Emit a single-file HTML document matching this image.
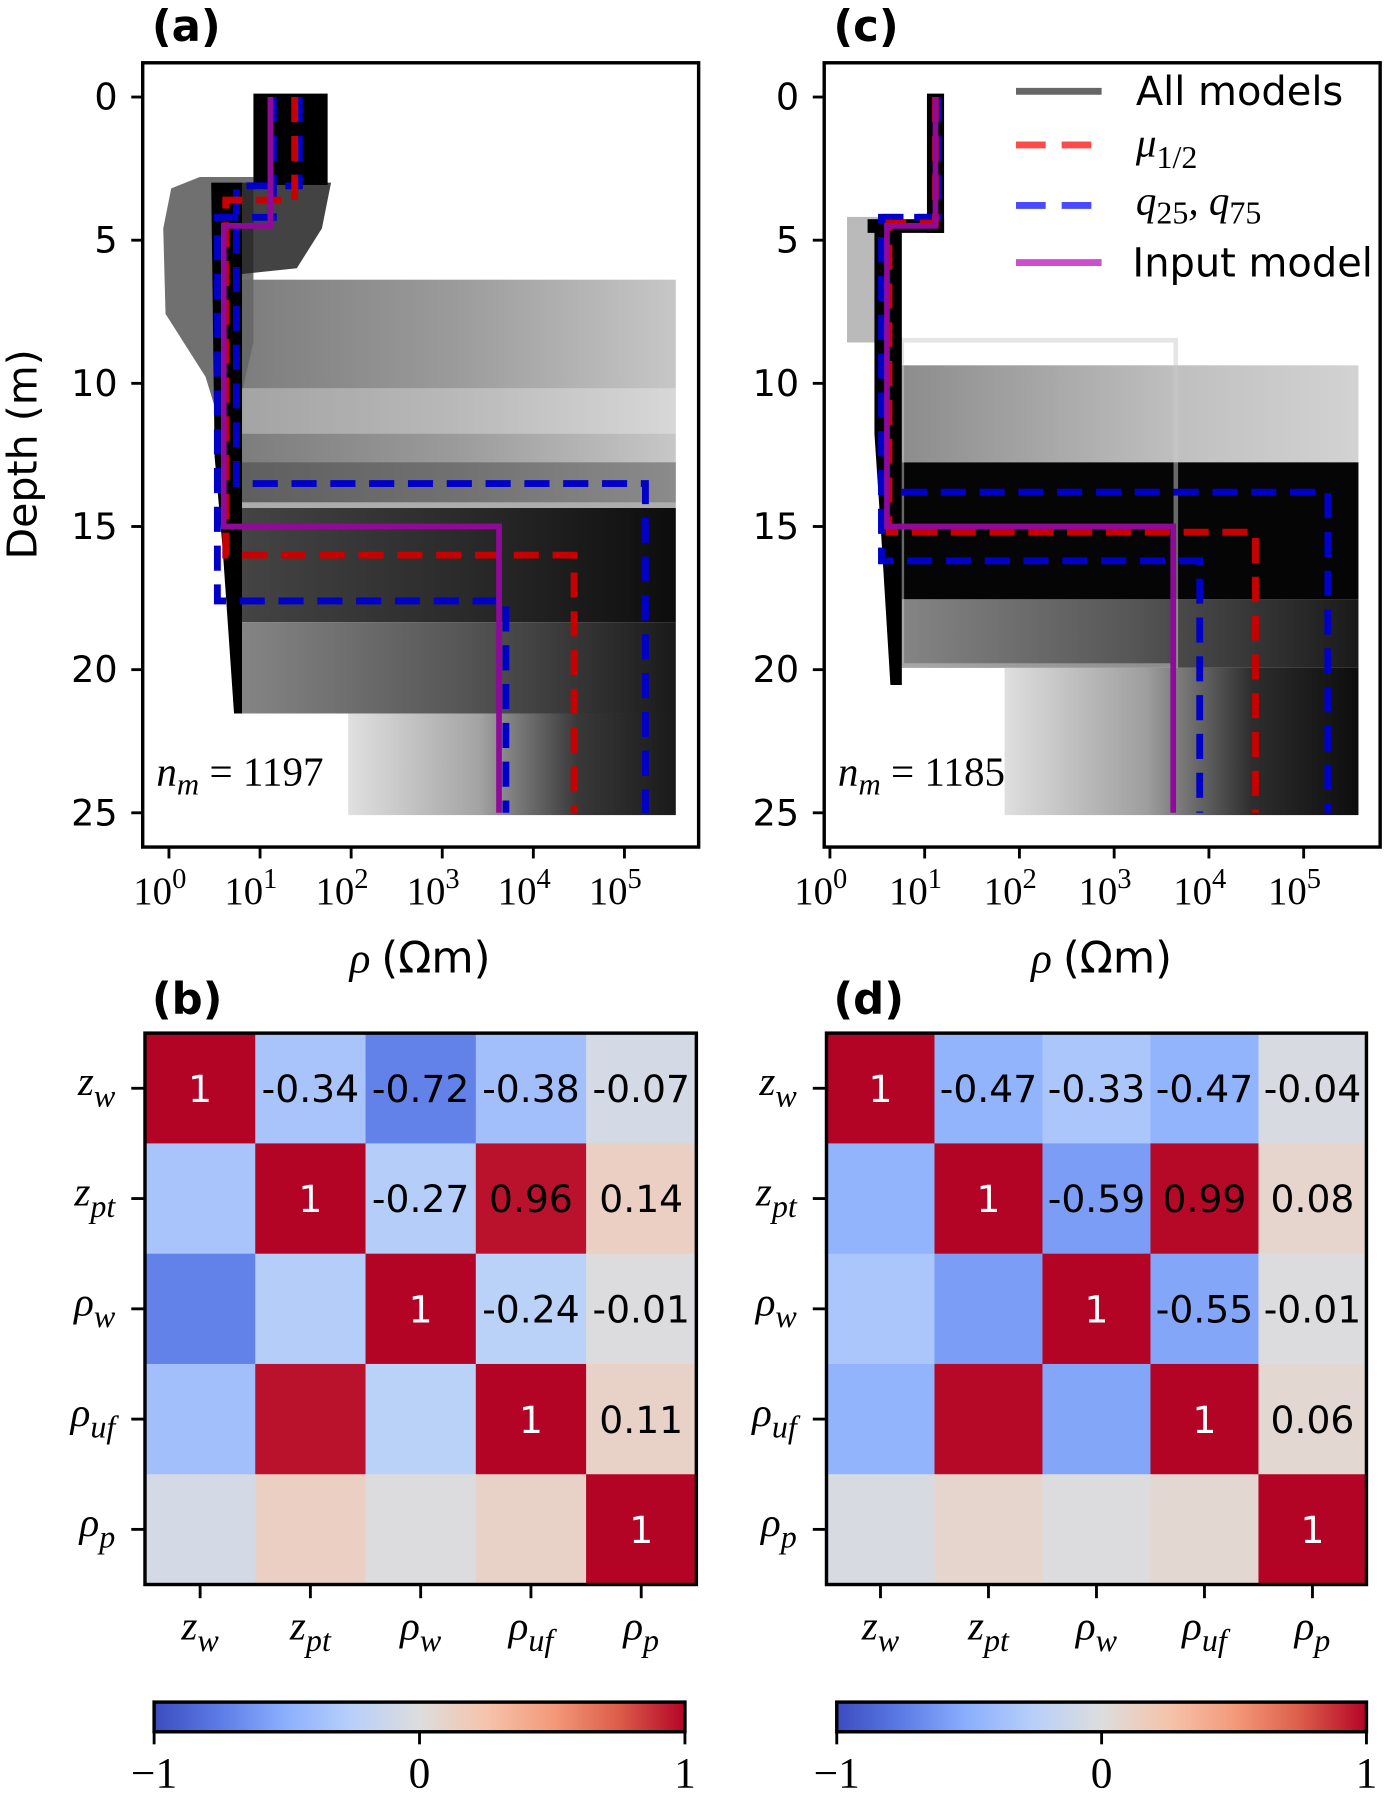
<!DOCTYPE html>
<html><head><meta charset="utf-8">
<style>
html,body{margin:0;padding:0;background:#fff;}
svg{display:block;}
.sans{font-family:"DejaVu Sans","Liberation Sans",sans-serif;}
.serif{font-family:"Liberation Serif","DejaVu Serif",serif;}
</style></head>
<body>
<svg id="fig" width="1387" height="1794" viewBox="0 0 1215 1571.5" preserveAspectRatio="none" xmlns="http://www.w3.org/2000/svg">
<defs>
<linearGradient id="cw" x1="0" x2="1" y1="0" y2="0">
<stop offset="0" stop-color="#3b4cc0"/><stop offset="0.125" stop-color="#5d7ce6"/><stop offset="0.25" stop-color="#8db0fe"/><stop offset="0.375" stop-color="#b9d0f9"/><stop offset="0.5" stop-color="#dddddd"/><stop offset="0.625" stop-color="#f5c4ac"/><stop offset="0.75" stop-color="#f49a7b"/><stop offset="0.875" stop-color="#dc5d4a"/><stop offset="1" stop-color="#b40426"/>
</linearGradient>
<linearGradient id="grayA" x1="0" x2="1"><stop offset="0" stop-color="#666"/><stop offset="0.5" stop-color="#8a8a8a"/><stop offset="1" stop-color="#bdbdbd"/></linearGradient>
<linearGradient id="darkA" x1="0" x2="1"><stop offset="0" stop-color="#3a3a3a"/><stop offset="0.6" stop-color="#1a1a1a"/><stop offset="1" stop-color="#000"/></linearGradient>
<linearGradient id="botA" x1="0" x2="1"><stop offset="0" stop-color="#ddd"/><stop offset="0.4" stop-color="#999"/><stop offset="0.7" stop-color="#222"/><stop offset="1" stop-color="#000"/></linearGradient>
<linearGradient id="midA" x1="0" x2="1"><stop offset="0" stop-color="#777"/><stop offset="0.5" stop-color="#444"/><stop offset="1" stop-color="#000"/></linearGradient>
<linearGradient id="grayC" x1="0" x2="1"><stop offset="0" stop-color="#666"/><stop offset="0.6" stop-color="#aaa"/><stop offset="1" stop-color="#c4c4c4"/></linearGradient>
</defs>
<g id="root"></g>
</svg>
<script>
// ---------- data ----------
const depthTicks = [0,5,10,15,20,25];
const rhoTickExp = [0,1,2,3,4,5];
const inputDepth = [0,4.5,15,25];
const inputRho = [13,4,4200];
const medDepthA = [0,3.6,16,25];
const medRhoA = [24,4.2,28000];
const q75DepthA = [0,3.1,13.5,25];
const q75RhoA = [27,5.5,170000];
const q25DepthA = [0,4.2,17.6,25];
const q25RhoA = [14,3.4,5000];
const medDepthC = [0,4.4,15.2,25];
const medRhoC = [13,4.2,31000];
const q75DepthC = [0,4.2,13.8,25];
const q75RhoC = [14,3.8,180000];
const q25DepthC = [0,4.2,16.2,25];
const q25RhoC = [13,3.5,8000];
const paramLabels = [["z","w"],["z","pt"],["ρ","w"],["ρ","uf"],["ρ","p"]];
const corrB = [
 [1,-0.34,-0.72,-0.38,-0.07],
 [-0.34,1,-0.27,0.96,0.14],
 [-0.72,-0.27,1,-0.24,-0.01],
 [-0.38,0.96,-0.24,1,0.11],
 [-0.07,0.14,-0.01,0.11,1]];
const corrD = [
 [1,-0.47,-0.33,-0.47,-0.04],
 [-0.47,1,-0.59,0.99,0.08],
 [-0.33,-0.59,1,-0.55,-0.01],
 [-0.47,0.99,-0.55,1,0.06],
 [-0.04,0.08,-0.01,0.06,1]];
const cbTicks = [-1,0,1];

const NS="http://www.w3.org/2000/svg";
const root=document.getElementById('root');
function el(tag,attrs,parent){const e=document.createElementNS(NS,tag);for(const k in attrs)e.setAttribute(k,attrs[k]);(parent||root).appendChild(e);return e;}

const yD = d => 85 + d*25.08;

function sub(t,base,s,cls,size){
  const a=el('tspan',{},t); a.textContent=base;
  const b=el('tspan',{dy:size*0.28,'font-size':size*0.78},t); b.textContent=s;
}

function depthPanel(cfg){
  const g=el('g',{});
  
  
  const xR = r => cfg.x0 + cfg.dec*Math.log10(r);
  const ens=el('g',{},g);
  
  
  cfg.ens(ens);
  function step(depths,rhos,attrs,name){
    let d='';
    for(let i=0;i<rhos.length;i++){
      const x=xR(rhos[i]);
      d+=(i===0?'M':'L')+x+','+yD(depths[i])+' L'+x+','+yD(depths[i+1])+' ';
    }
    const p=el('path',Object.assign({d:d,fill:'none'},attrs),g);
    
    
  }
  step(cfg.q25D,cfg.q25R,{stroke:'#0000c8','stroke-width':6,'stroke-dasharray':'22,12'},'q25-line');
  step(cfg.q75D,cfg.q75R,{stroke:'#0000c8','stroke-width':6,'stroke-dasharray':'22,12'},'q75-line');
  step(cfg.medD,cfg.medR,{stroke:'#c80000','stroke-width':6,'stroke-dasharray':'22,12'},'median-line');
  step(inputDepth,inputRho,{stroke:'#900a9a','stroke-width':5},'input-model-line');
  const fr=el('rect',{x:cfg.fx,y:55,width:487,height:687,fill:'none',stroke:'#000','stroke-width':3},g);
  
  
  depthTicks.forEach(t=>{
    el('line',{x1:cfg.fx-10,x2:cfg.fx,y1:yD(t),y2:yD(t),stroke:'#000','stroke-width':2.5},g);
    const tx=el('text',{x:cfg.fx-22,y:yD(t)+11,'text-anchor':'end','font-size':32,class:'sans'},g);
    tx.textContent=t;
    
    
  });
  rhoTickExp.forEach(e=>{
    const x=xR(Math.pow(10,e));
    el('line',{x1:x,x2:x,y1:742,y2:752,stroke:'#000','stroke-width':2.5},g);
    const tx=el('text',{x:x-8,y:792,'text-anchor':'middle','font-size':34,class:'serif'},g);
    const a=el('tspan',{},tx);a.textContent='10';
    const b=el('tspan',{dy:-14,'font-size':25},tx);b.textContent=e;
    
    
  });
  const xl=el('text',{x:cfg.fx+243,y:852,'text-anchor':'middle','font-size':38},g);
  const t1=el('tspan',{class:'serif','font-style':'italic'},xl);t1.textContent='ρ ';
  const t2=el('tspan',{class:'sans'},xl);t2.textContent='(Ωm)';
  
  
  const nm=el('text',{x:cfg.fx+12,y:688,'font-size':36,class:'serif'},g);
  const n1=el('tspan',{'font-style':'italic'},nm);n1.textContent='n';
  const n2=el('tspan',{'font-style':'italic',dy:8,'font-size':27},nm);n2.textContent='m';
  const n3=el('tspan',{dy:-8},nm);n3.textContent=' = '+cfg.nm;
  
  
  const lb=el('text',{x:cfg.fx+8,y:36,'font-size':38,'font-weight':'bold',class:'sans'},g);
  lb.textContent=cfg.label;
  
  
}

depthPanel({name:'panel-a',fx:125,x0:148,dec:79.8,nm:1197,label:'(a)',
 medD:medDepthA,medR:medRhoA,q75D:q75DepthA,q75R:q75RhoA,q25D:q25DepthA,q25R:q25RhoA,
 ens:function(g){
  el('polygon',{points:'150,165 175,155 222,155 222,300 200,395 180,330 145,275 143,200',fill:'#333',opacity:0.7},g);
  el('polygon',{points:'212,160 290,160 282,200 260,235 212,240',fill:'#222',opacity:0.85},g);
  el('rect',{x:222,y:82,width:65,height:80,fill:'#000'},g);
  el('rect',{x:212,y:245,width:380,height:195,fill:'url(#grayA)',opacity:0.85},g);
  el('rect',{x:212,y:340,width:380,height:40,fill:'#fff',opacity:0.3},g);
  el('rect',{x:212,y:405,width:380,height:40,fill:'#333',opacity:0.4},g);
  el('rect',{x:212,y:445,width:380,height:100,fill:'url(#darkA)',opacity:0.95},g);
  el('rect',{x:212,y:545,width:380,height:80,fill:'url(#midA)',opacity:0.9},g);
  el('rect',{x:305,y:625,width:287,height:89,fill:'url(#botA)',opacity:0.9},g);
  el('polygon',{points:'185,160 212,160 212,625 205,625 195,480 188,400',fill:'#000'},g);
 }});

depthPanel({name:'panel-c',fx:722,x0:727,dec:83,nm:1185,label:'(c)',
 medD:medDepthC,medR:medRhoC,q75D:q75DepthC,q75R:q75RhoC,q25D:q25DepthC,q25R:q25RhoC,
 ens:function(g){
  el('rect',{x:742,y:190,width:30,height:110,fill:'#666',opacity:0.45},g);
  el('rect',{x:812,y:82,width:15,height:122,fill:'#000'},g);
  el('rect',{x:760,y:192,width:67,height:12,fill:'#000'},g);
  el('rect',{x:790,y:320,width:400,height:85,fill:'url(#grayC)',opacity:0.75},g);
  el('rect',{x:790,y:405,width:400,height:120,fill:'#050505'},g);
  el('rect',{x:790,y:525,width:400,height:60,fill:'url(#midA)',opacity:0.9},g);
  el('rect',{x:880,y:585,width:310,height:129,fill:'url(#botA)',opacity:0.95},g);
  el('rect',{x:790,y:298,width:240,height:285,fill:'none',stroke:'#ccc','stroke-width':4,opacity:0.5},g);
  el('polygon',{points:'766,200 790,200 790,600 780,600 772,470 766,380',fill:'#000'},g);
 }});

(function(){
  const g=el('g',{});
  
  
  const items=[
   {y:80,st:{stroke:'#666','stroke-width':6},t:'All models',name:'legend-all-models'},
   {y:127,st:{stroke:'#ff4a4a','stroke-width':6,'stroke-dasharray':'26,14'},t:'mu',name:'legend-median'},
   {y:180,st:{stroke:'#4a4aff','stroke-width':6,'stroke-dasharray':'26,14'},t:'q',name:'legend-quartiles'},
   {y:230,st:{stroke:'#cc4fd0','stroke-width':6},t:'Input model',name:'legend-input-model'}];
  items.forEach(it=>{
    const e=el('g',{},g);
    
    
    el('line',Object.assign({x1:890,x2:965,y1:it.y,y2:it.y},it.st),e);
    let tx;
    if(it.t==='mu'){
      tx=el('text',{x:995,y:it.y+10,'font-size':36,class:'serif','font-style':'italic'},e);
      const a=el('tspan',{},tx);a.textContent='μ';
      const b=el('tspan',{dy:10,'font-size':28,'font-style':'normal'},tx);b.textContent='1/2';
    } else if(it.t==='q'){
      tx=el('text',{x:995,y:it.y+8,'font-size':36,class:'serif','font-style':'italic'},e);
      const a=el('tspan',{},tx);a.textContent='q';
      const b=el('tspan',{dy:8,'font-size':28,'font-style':'normal'},tx);b.textContent='25';
      const c=el('tspan',{dy:-8},tx);c.textContent=', q';
      const d=el('tspan',{dy:8,'font-size':28,'font-style':'normal'},tx);d.textContent='75';
    } else {
      tx=el('text',{x:it.t==='Input model'?992:995,y:it.y+12,'font-size':35,class:'sans'},e);
      tx.textContent=it.t;
    }
  });
})();

(function(){
  const t=el('text',{x:0,y:0,'font-size':36,class:'sans','text-anchor':'middle',transform:'translate(32,398) rotate(-90)'});
  t.textContent='Depth (m)';
  
  
})();

const cwStops=[[-1,[59,76,192]],[-0.75,[93,124,230]],[-0.5,[141,176,254]],[-0.25,[185,208,249]],[0,[221,221,221]],[0.25,[245,196,172]],[0.5,[244,154,123]],[0.75,[220,93,74]],[1,[180,4,38]]];
function cw(v){
  for(let i=0;i<cwStops.length-1;i++){
    const [a,ca]=cwStops[i],[b,cb]=cwStops[i+1];
    if(v>=a&&v<=b){const t=(v-a)/(b-a);return 'rgb('+ca.map((c,k)=>Math.round(c+(cb[k]-c)*t)).join(',')+')';}
  }
  return 'rgb(180,4,38)';
}

function heatmap(cfg){
  const g=el('g',{});
  
  
  const cw_=cfg.w/5, ch=cfg.h/5;
  cfg.m.forEach((row,i)=>row.forEach((v,j)=>{
    const r=el('rect',{x:cfg.x+j*cw_,y:cfg.y+i*ch,width:cw_+0.5,height:ch+0.5,fill:cw(v)},g);
    
    
    if(j>=i){
      const t=el('text',{x:cfg.x+(j+0.5)*cw_,y:cfg.y+(i+0.5)*ch+12,'text-anchor':'middle','font-size':33,class:'sans',fill:v===1?'#fff':'#000'},g);
      t.textContent=v===1?'1':v.toFixed(2);
      
      
    }
  }));
  el('rect',{x:cfg.x,y:cfg.y,width:cfg.w,height:cfg.h,fill:'none',stroke:'#000','stroke-width':3},g);
  paramLabels.forEach((p,k)=>{
    const yy=cfg.y+(k+0.5)*ch;
    el('line',{x1:cfg.x-12,x2:cfg.x,y1:yy,y2:yy,stroke:'#000','stroke-width':2.5},g);
    const t=el('text',{x:cfg.x-26,y:yy+6,'text-anchor':'end','font-size':36,class:'serif','font-style':'italic'},g);
    sub(t,p[0],p[1],'',36);
    
    
    const xx=cfg.x+(k+0.5)*cw_;
    el('line',{x1:xx,x2:xx,y1:cfg.y+cfg.h,y2:cfg.y+cfg.h+12,stroke:'#000','stroke-width':2.5},g);
    const t2=el('text',{x:xx,y:cfg.y+cfg.h+48,'text-anchor':'middle','font-size':36,class:'serif','font-style':'italic'},g);
    sub(t2,p[0],p[1],'',36);
    
    
  });
  const lb=el('text',{x:cfg.x+6,y:888,'font-size':38,'font-weight':'bold',class:'sans'},g);
  lb.textContent=cfg.label;
  
  
  const cb=el('g',{},g);
  
  
  el('rect',{x:cfg.cbx,y:1491,width:cfg.cbw,height:26,fill:'url(#cw)',stroke:'#000','stroke-width':3},cb);
  cbTicks.forEach(v=>{
    const x=cfg.cbx+(v+1)/2*cfg.cbw;
    el('line',{x1:x,x2:x,y1:1517,y2:1528,stroke:'#000','stroke-width':2.5},cb);
    const t=el('text',{x:x,y:1566,'text-anchor':'middle','font-size':38,class:'serif'},cb);
    t.textContent=v<0?'−1':String(v);
    
    
  });
}
heatmap({name:'heatmap-b',x:127,y:905,w:483,h:483,m:corrB,label:'(b)',cbx:135,cbw:465});
heatmap({name:'heatmap-d',x:724,y:905,w:473,h:483,m:corrD,label:'(d)',cbx:733,cbw:464});
</script>
</body></html>
